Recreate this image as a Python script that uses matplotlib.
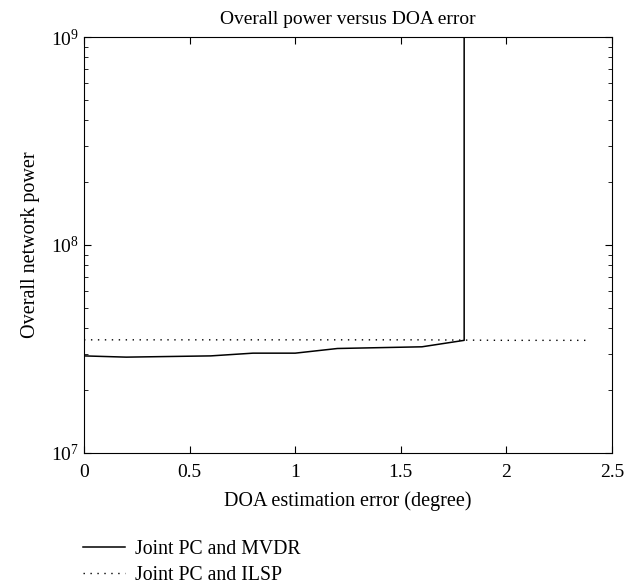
import numpy as np
import matplotlib.pyplot as plt

plt.rcParams['font.family'] = ['Liberation Serif', 'DejaVu Serif']
plt.rcParams['mathtext.fontset'] = 'stix'

# DOA estimation error (degree)
mvdr_x = [0, 0.2, 0.4, 0.6, 0.8, 1.0, 1.2, 1.4, 1.6, 1.8, 1.8]
mvdr_y = [2.93e7, 2.89e7, 2.91e7, 2.93e7, 3.02e7, 3.02e7, 3.18e7, 3.21e7, 3.24e7, 3.48e7, 1e10]

ilsp_x = [0, 0.4, 0.8, 1.2, 1.6, 2.0, 2.4]
ilsp_y = [3.5e7, 3.5e7, 3.5e7, 3.5e7, 3.5e7, 3.48e7, 3.48e7]

xticks = [0, 0.5, 1, 1.5, 2, 2.5]
xticklabels = ['0', '0.5', '1', '1.5', '2', '2.5']

fig = plt.figure(figsize=(6.37, 5.86), dpi=100)
ax = fig.add_axes([84/637, 1 - 453/586, 528/637, 416/586])

l1, = ax.plot(mvdr_x, mvdr_y, color='black', linewidth=1.1, linestyle='-')
l2, = ax.plot(ilsp_x, ilsp_y, color='black', linewidth=1.0, linestyle=(0, (1, 4)))

ax.set_yscale('log')
ax.set_xlim(0, 2.5)
ax.set_ylim(1e7, 1e9)
ax.set_xticks(xticks)
ax.set_xticklabels(xticklabels)
ax.tick_params(which='both', direction='in', top=True, right=True, labelsize=14)
ax.tick_params(which='major', length=5)
ax.tick_params(which='minor', length=3)
ax.tick_params(axis='x', pad=8)

ax.set_title('Overall power versus DOA error', fontsize=14, pad=9)
ax.set_xlabel('DOA estimation error (degree)', fontsize=14.5, labelpad=7)
ax.set_ylabel('Overall network power', fontsize=14.5, labelpad=8)

fig.legend([l1, l2], ['Joint PC and MVDR', 'Joint PC and ILSP'],
           loc='upper left', bbox_to_anchor=(83/637, 1 - 540/586),
           frameon=False, fontsize=14.2, handlelength=2.15, handletextpad=0.5,
           labelspacing=0.36, borderpad=0, borderaxespad=0)

fig.savefig('out.png', dpi=100)
